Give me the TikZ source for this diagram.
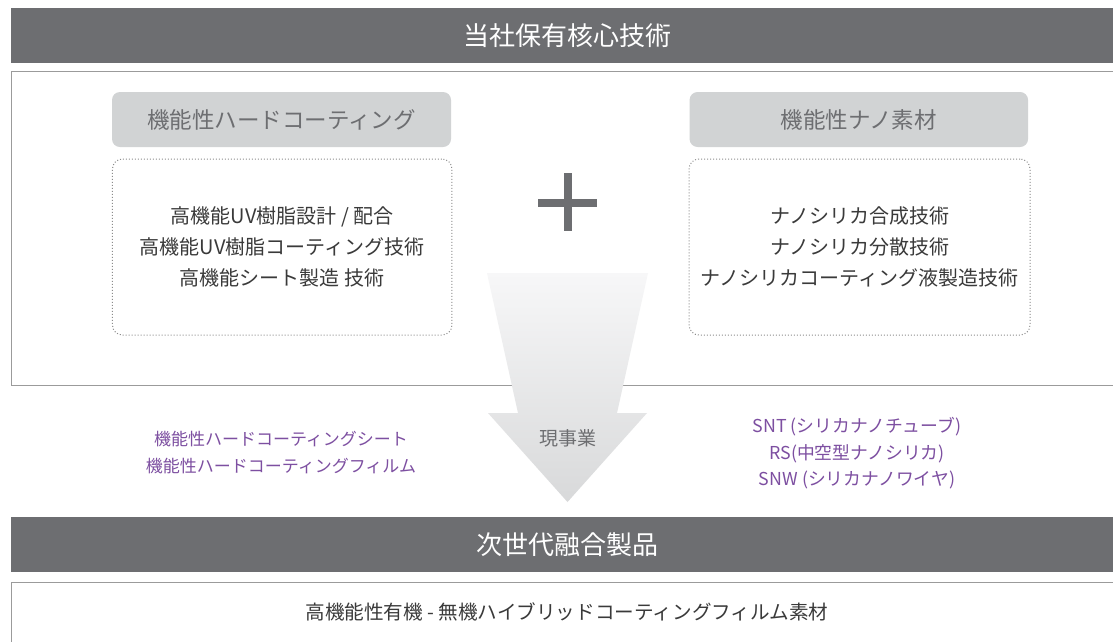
\documentclass[tikz,border=0pt]{standalone}
\usepackage{fontspec}
\setmainfont{Noto Sans CJK JP}
\definecolor{barc}{HTML}{6D6E71}
\definecolor{hdrc}{HTML}{D1D3D4}
\definecolor{linec}{HTML}{9B9B9B}
\definecolor{dotc}{HTML}{8C8C8C}
\definecolor{txtc}{HTML}{3A3A3A}
\definecolor{purp}{HTML}{7D4FA1}
\definecolor{arrtop}{HTML}{F7F7F8}
\definecolor{arrbot}{HTML}{D8D9DA}
\tikzset{
  titlebar/.style={fill=barc, text=white, inner sep=0pt, minimum height=54.6pt, anchor=north west,
    font=\fontsize{26}{30}\selectfont},
  hdrbox/.style={fill=hdrc, rounded corners=8pt, minimum width=339pt, minimum height=55pt, inner sep=0pt,
    text=barc, font=\fontsize{22.5}{26}\selectfont},
  itembox/.style={draw=dotc, line width=1pt, dash pattern=on 1pt off 2pt, rounded corners=10pt,
    minimum height=176pt, inner sep=0pt, align=center, text=txtc, font=\fontsize{20}{31}\selectfont},
  purptext/.style={text=purp, align=center, inner sep=0pt},
  framebox/.style={draw=linec, line width=1.5pt}
}
\begin{document}
\begin{tikzpicture}[x=1pt,y=-1pt]
\useasboundingbox (0,0) rectangle (1113,641);
\clip (0,0) rectangle (1113,641);
\fill[white] (0,0) rectangle (1113,641);

% top title bar
\node[titlebar, minimum width=1113pt] (title1) at (11,8) {当社保有核心技術};
% top frame
\draw[framebox] (11.7,71.7) rectangle (1130,385.5);

% headers
\node[hdrbox] (hdrL) at (281.5,119.5) {機能性ハードコーティング};
\node[hdrbox, minimum width=338.5pt] (hdrR) at (858.8,119.5) {機能性ナノ素材};

% dotted item boxes
\node[itembox, minimum width=339.5pt] (itemL) at (282.2,247) {高機能UV樹脂設計 / 配合\\高機能UV樹脂コーティング技術\\高機能シート製造 技術};
\node[itembox, minimum width=341pt] (itemR) at (859.5,247) {ナノシリカ合成技術\\ナノシリカ分散技術\\ナノシリカコーティング液製造技術};

% plus sign
\fill[barc] (538,198.5) rectangle (597,206.5);
\fill[barc] (563.5,173) rectangle (571.5,231);

% big down arrow
\shade[top color=arrtop, bottom color=arrbot]
  (487,273) -- (648,273) -- (617,413) -- (647,413) -- (567.5,502)
  -- (488,413) -- (518,413) -- cycle;
\node[text=barc, inner sep=0pt, font=\fontsize{19}{22}\selectfont] (cur) at (567.5,438) {現事業};

% purple texts
\node[purptext, font=\fontsize{17}{27}\selectfont] (prodL) at (281,453) {機能性ハードコーティングシート\\機能性ハードコーティングフィルム};
\node[purptext, font=\fontsize{17.8}{26.5}\selectfont] (prodR) at (857,453.5) {SNT (シリカナノチューブ)\\RS(中空型ナノシリカ)\\SNW (シリカナノワイヤ)};

% bottom title bar
\node[titlebar, minimum width=1113pt] (title2) at (11,517) {次世代融合製品};
% bottom frame
\draw[framebox] (11.7,582.5) rectangle (1130,660);
\node[text=txtc, inner sep=0pt, font=\fontsize{19.6}{22}\selectfont] (fusion) at (567,612) {高機能性有機 - 無機ハイブリッドコーティングフィルム素材};
\end{tikzpicture}
\end{document}
